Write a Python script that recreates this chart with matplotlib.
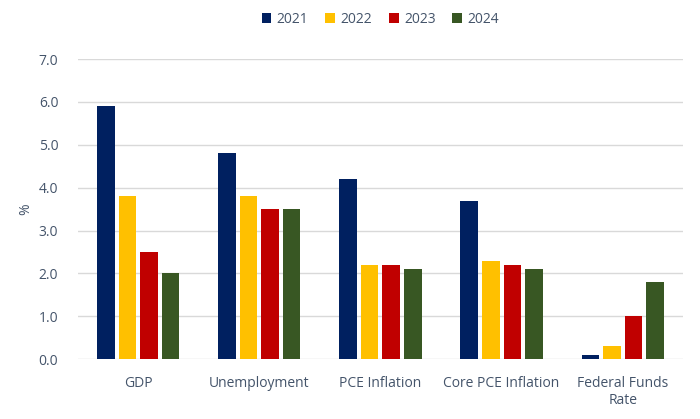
import numpy as np
import matplotlib.pyplot as plt

# forecast categories
categories = ['GDP', 'Unemployment', 'PCE Inflation', 'Core PCE Inflation', 'Federal Funds\nRate']
years = ['2021', '2022', '2023', '2024']

# values in percent per year
v2021 = [5.9, 4.8, 4.2, 3.7, 0.1]
v2022 = [3.8, 3.8, 2.2, 2.3, 0.3]
v2023 = [2.5, 3.5, 2.2, 2.2, 1.0]
v2024 = [2.0, 3.5, 2.1, 2.1, 1.8]

colors = ['#002060', '#FFC000', '#C00000', '#385723']
text_color = '#44546A'

plt.rcParams['font.family'] = ['Open Sans', 'DejaVu Sans']

fig = plt.figure(figsize=(7, 4.19), dpi=100)
ax = fig.add_axes([0.111, 0.143, 0.865, 0.716])

x = np.arange(len(categories))
width = 0.145
step = 0.178
series = [v2021, v2022, v2023, v2024]
for i, vals in enumerate(series):
    ax.bar(x + (i - 1.5) * step, vals, width, color=colors[i], label=years[i], zorder=3)

ax.set_xlim(-0.5, len(categories) - 0.5)
ax.set_ylim(0, 7)
ax.set_yticks(np.arange(0, 7.5, 1.0))
ax.set_yticklabels(['%.1f' % t for t in np.arange(0, 7.5, 1.0)])
ax.set_xticks(x)
ax.set_xticklabels(categories)
ax.tick_params(axis='both', length=0, colors=text_color, labelsize=10)
ax.tick_params(axis='x', pad=12)
ax.tick_params(axis='y', pad=14)
ax.yaxis.grid(True, color='#D9D9D9', linewidth=1, zorder=0)
for s in ax.spines.values():
    s.set_visible(False)

ax.set_ylabel('%', color=text_color, fontsize=10, labelpad=4)

ax.legend(loc='upper center', bbox_to_anchor=(0.5, 1.2), ncol=4, frameon=False,
          fontsize=10, labelcolor=text_color, handlelength=0.7, handleheight=0.7,
          handletextpad=0.4, columnspacing=1.2)

fig.savefig('out.png', dpi=100)
